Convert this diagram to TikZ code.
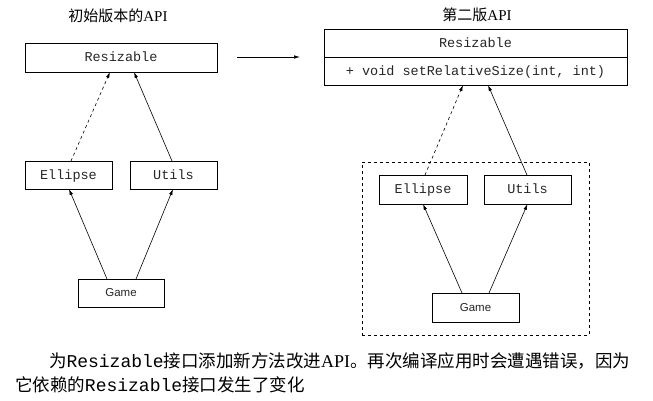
\documentclass[tikz,border=0pt]{standalone}
\usepackage{fontspec}
\setmainfont{Liberation Serif}
\newfontfamily\cjk{Noto Sans CJK SC}
\newfontfamily\codefont{Liberation Mono}
\newfontfamily\gamefont{Liberation Sans}
\usetikzlibrary{arrows.meta}
\begin{document}
\begin{tikzpicture}[x=1pt,y=-1pt]
	\tikzset{every node/.style={inner sep=0pt, outer sep=0pt},
		classbox/.style={draw, line width=0.9pt, text=black!85, text height=9pt, text depth=1pt,
			font=\codefont\fontsize{13.5}{16}\selectfont},
		gamebox/.style={classbox, text height=8.2pt, text depth=0.5pt, font=\gamefont\fontsize{11.5}{14}\selectfont},
		deparrow/.style={-{Latex[length=6pt,width=3.5pt]}, line width=0.6pt},
		title/.style={font=\fontsize{15}{18}\selectfont}
	}
	\useasboundingbox (0,0) rectangle (653,400);
	% first version
	\node (v1title) at (118,16) [title] {{\cjk 初始版本的}API};
	\node (v1root) at (121,57.5) [classbox, minimum width=192pt, minimum height=29pt] {Resizable};
	\node (v1n1) at (68.5,175) [classbox, minimum width=87pt, minimum height=28pt] {Ellipse};
	\node (v1n2) at (173.5,175) [classbox, minimum width=87pt, minimum height=28pt] {Utils};
	\node (v1n3) at (121,293) [gamebox, minimum width=86pt, minimum height=28pt] {Game};
	\draw[deparrow, dashed] ([xshift=2.5pt]v1n1.north) -- ([xshift=-11pt]v1root.south);
	\draw[deparrow] ([xshift=-1.5pt]v1n2.north) -- ([xshift=13pt]v1root.south);
	\draw[deparrow] ([xshift=-14pt]v1n3.north) -- ([xshift=0.5pt]v1n1.south);
	\draw[deparrow] ([xshift=15pt]v1n3.north) -- ([xshift=-0.5pt]v1n2.south);
	% second version
	\node (v2title) at (477,15) [title] {{\cjk 第二版}API};
	\node (v2root) at (475.5,43) [classbox, minimum width=303pt, minimum height=28pt] {Resizable};
	\node (v2meth) at (475.5,71) [classbox, minimum width=303pt, minimum height=28pt] {+ void setRelativeSize(int, int)};
	\node (v2frame) at (475.5,248.5) [draw, dashed, line width=0.6pt, minimum width=227pt, minimum height=173pt] {};
	\node (v2n1) at (423,189.5) [classbox, minimum width=88pt, minimum height=29pt] {Ellipse};
	\node (v2n2) at (527.5,189.5) [classbox, minimum width=87pt, minimum height=29pt] {Utils};
	\node (v2n3) at (475.5,307.5) [gamebox, minimum width=87pt, minimum height=29pt] {Game};
	\draw[deparrow, dashed] ([xshift=2pt]v2n1.north) -- ([xshift=-12.5pt]v2meth.south);
	\draw[deparrow] ([xshift=-0.5pt]v2n2.north) -- ([xshift=12.5pt]v2meth.south);
	\draw[deparrow] ([xshift=-13.5pt]v2n3.north) -- (v2n1.south);
	\draw[deparrow] ([xshift=13.5pt]v2n3.north) -- (v2n2.south);
	% from old to new
	\coordinate (chgstart) at (237,57);
	\coordinate (chgend) at (300,57);
	\draw[deparrow] (chgstart) -- (chgend);
	% caption
	\node (cap1) at (49,361) [anchor=west] {\fontsize{17.5}{21}\selectfont\cjk 为{\codefont\fontsize{18}{21}\selectfont Resizable}接口添加新方法改进{\rmfamily\fontsize{18}{21}\selectfont API}。再次编译应用时会遭遇错误，因为};
	\node (cap2) at (15,385) [anchor=west] {\fontsize{17.5}{21}\selectfont\cjk 它依赖的{\codefont\fontsize{18}{21}\selectfont Resizable}接口发生了变化};
\end{tikzpicture}
\end{document}
